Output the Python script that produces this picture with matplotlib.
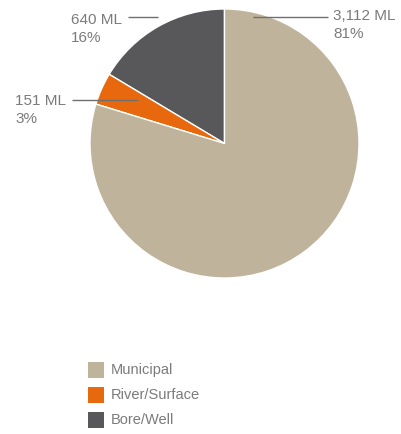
import matplotlib
matplotlib.use("Agg")
import matplotlib.pyplot as plt
from matplotlib.patches import Rectangle

# Water withdrawal by source
categories = ["Municipal", "River/Surface", "Bore/Well"]
volumes_ml = [3112, 151, 640]
volume_labels = ["3,112 ML", "151 ML", "640 ML"]
pct_labels = ["81%", "3%", "16%"]
colors = ["#BFB39B", "#E8690D", "#58585A"]

W, H = 401, 434
fig = plt.figure(figsize=(W / 100, H / 100), dpi=100)
ax = fig.add_axes([0, 0, 1, 1])

font = "Liberation Sans"
txt_col = "#7b7b7b"
line_col = "#6f6f6f"

cx, cy, r = 224.5, H - 143.5, 134.5

# Counter-clockwise from 12 o'clock: Bore/Well, River/Surface, Municipal
order = [2, 1, 0]
ax.pie([volumes_ml[i] for i in order],
       colors=[colors[i] for i in order],
       startangle=90, counterclock=True,
       center=(cx, cy), radius=r, frame=True,
       wedgeprops=dict(edgecolor="white", linewidth=1.0))
ax.set_xlim(0, W)
ax.set_ylim(0, H)
ax.set_aspect("equal")
ax.axis("off")

# Callout labels: (index, text x, first line y, second line y,
#                  leader start x, leader end x, leader y)
callouts = [
    (0, 333, 16, 34.5, 253, 328, 17),
    (2, 71, 19.5, 38.5, 128, 158, 17),
    (1, 15, 101, 119, 72, 138, 100),
]
for i, tx, ty1, ty2, lx0, lx1, ly in callouts:
    ax.plot([lx0, lx1], [H - ly, H - ly], color=line_col, lw=1.0,
            solid_capstyle="butt")
    ax.text(tx, H - ty1, volume_labels[i], ha="left", va="center",
            fontsize=11, color=txt_col, family=font)
    ax.text(tx, H - ty2, pct_labels[i], ha="left", va="center",
            fontsize=11, color=txt_col, family=font)

# Legend
for k, name in enumerate(categories):
    yc = 370 + 25 * k
    ax.add_patch(Rectangle((88, H - yc - 8), 16, 16, facecolor=colors[k],
                           edgecolor="none"))
    ax.text(111, H - yc, name, ha="left", va="center", fontsize=10.5,
            color=txt_col, family=font)

fig.savefig("out.png", dpi=100)
